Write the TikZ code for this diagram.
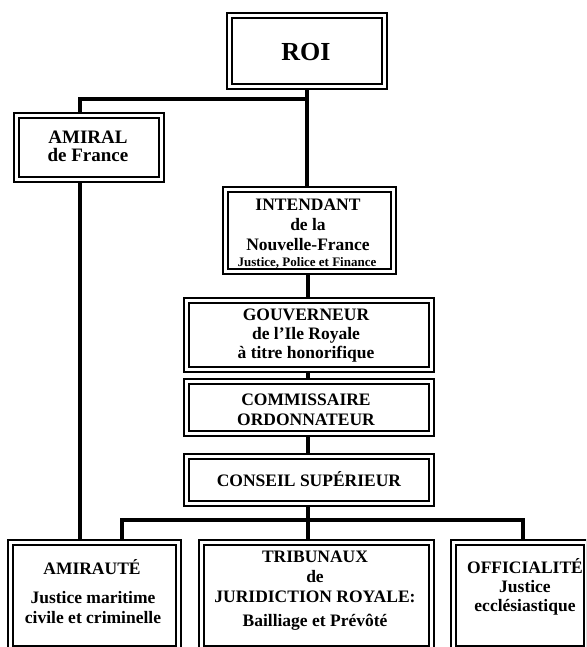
\documentclass[tikz,border=0pt]{standalone}
\usepackage{fontspec}
\setmainfont{Liberation Serif}
\pgfdeclarelayer{background}
\pgfsetlayers{background,main}
\tikzset{
  box/.style={rectangle, draw=black, line width=1.9pt, double=white, double distance=3.2pt, fill=white, inner sep=0pt},
  conn/.style={draw=black, line width=3.6pt, line join=miter},
  txt/.style={align=center, inner sep=0pt, font=\bfseries\fontsize{17.5}{19.5}\selectfont},
}
\begin{document}
\begin{tikzpicture}[x=1pt,y=-1pt]
\useasboundingbox (0,0) rectangle (586,647);
\clip (0,0) rectangle (586,647);
% boxes
\node[box, minimum width=155pt, minimum height=71pt] (roi) at (307,51) {};
\node[box, minimum width=145pt, minimum height=64pt] (amiral) at (89,147.5) {};
\node[box, minimum width=168pt, minimum height=82pt] (intend) at (309.5,230.5) {};
\node[box, minimum width=245pt, minimum height=69pt] (gouv) at (309,335) {};
\node[box, minimum width=245pt, minimum height=52pt] (comm) at (309,407.5) {};
\node[box, minimum width=245pt, minimum height=47pt] (conseil) at (309,480) {};
\node[box, minimum width=168pt, minimum height=106pt] (amiraute) at (94.5,595.5) {};
\node[box, minimum width=230pt, minimum height=106pt] (trib) at (316.5,595.5) {};
\node[box, minimum width=133pt, minimum height=106pt] (offic) at (520,595.5) {};
% texts
\node[txt, font=\bfseries\fontsize{26}{30}\selectfont] (t-roi) at (306,52) {ROI};
\node[txt, font=\bfseries\fontsize{19}{18.5}\selectfont] (t-amiral) at (88,146.3) {AMIRAL\\de France};
\node[txt, font=\bfseries\fontsize{17.5}{20}\selectfont] (t-intend) at (308,225) {INTENDANT\\de la\\Nouvelle-France};
\node[txt, font=\bfseries\fontsize{13}{15}\selectfont] (t-intend2) at (307,262.5) {Justice, Police et Finance};
\node[txt, font=\bfseries\fontsize{17.5}{19}\selectfont] (t-gouv) at (306,336) {GOUVERNEUR\\de l’Ile Royale\\à titre honorifique};
\node[txt, font=\bfseries\fontsize{17.5}{20}\selectfont] (t-comm) at (306,410) {COMMISSAIRE\\ORDONNATEUR};
\node[txt] (t-conseil) at (309,479.5) {CONSEIL SUPÉRIEUR};
\node[txt] (t-amiraute) at (92,567.5) {AMIRAUTÉ};
\node[txt, font=\bfseries\fontsize{17.5}{19.3}\selectfont] (t-amiraute2) at (93,607.5) {Justice maritime\\civile et criminelle};
\node[txt, font=\bfseries\fontsize{17.5}{20}\selectfont] (t-trib) at (315,576.7) {TRIBUNAUX\\de\\JURIDICTION ROYALE:};
\node[txt] (t-trib2) at (315,622.5) {Bailliage et Prévôté};
\node[txt, font=\bfseries\fontsize{17.5}{19}\selectfont] (t-offic) at (525,587) {OFFICIALITÉ\\Justice\\ecclésiastique};
% connectors
\coordinate (tbus) at (307,99);
\coordinate (a1) at (80,99);
\coordinate (sx) at (308,0);
\coordinate (bl) at (122,520);
\coordinate (br) at (523,520);
\begin{pgfonlayer}{background}
\draw[conn] (roi.south) -- (roi.south |- intend.north);
\draw[conn] (a1 |- amiral.north) -- (a1) -- (tbus);
\draw[conn] (a1 |- amiral.south) -- (a1 |- amiraute.north);
\draw[conn] (sx |- intend.south) -- (sx |- gouv.north);
\draw[conn] (sx |- gouv.south) -- (sx |- comm.north);
\draw[conn] (sx |- comm.south) -- (sx |- conseil.north);
\draw[conn] (sx |- conseil.south) -- (sx |- trib.north);
\draw[conn] (bl |- amiraute.north) -- (bl) -- (br) -- (br |- offic.north);
\end{pgfonlayer}
\end{tikzpicture}
\end{document}
